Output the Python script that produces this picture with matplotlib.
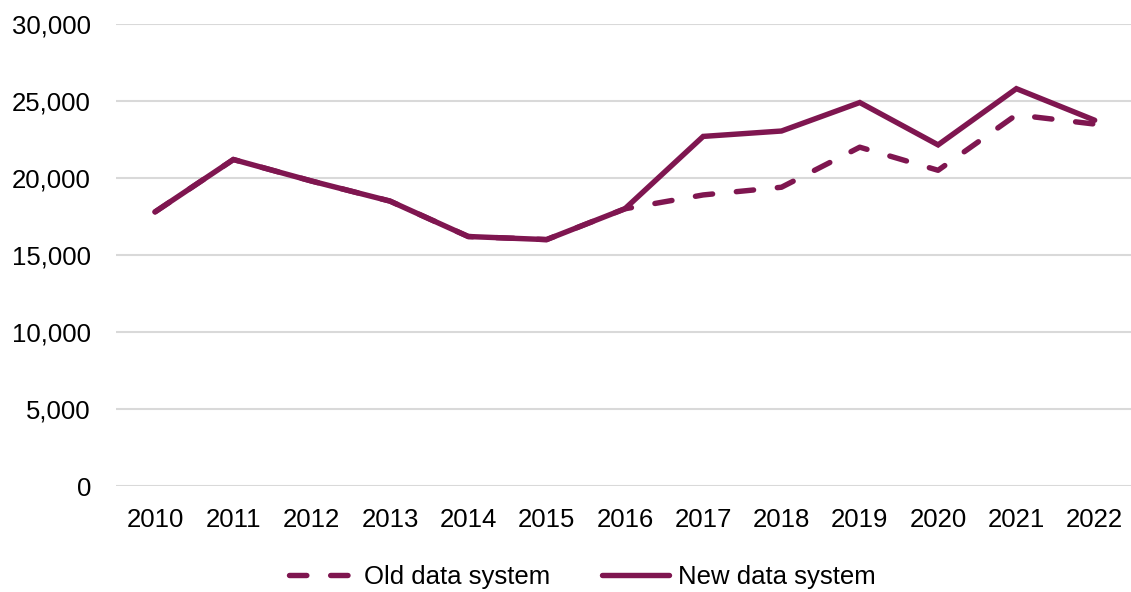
import matplotlib.pyplot as plt
from matplotlib.ticker import FuncFormatter

plt.rcParams['font.family'] = ['Liberation Sans', 'DejaVu Sans']

years = ['2010', '2011', '2012', '2013', '2014', '2015', '2016',
         '2017', '2018', '2019', '2020', '2021', '2022']
old_system = [17800, 21200, 19800, 18500, 16200, 16000, 18000,
              18900, 19400, 22000, 20500, 24100, 23500]
new_system = [17800, 21200, 19800, 18500, 16200, 16000, 18000,
              22700, 23050, 24900, 22150, 25800, 23750]

colour = '#7F1650'

fig = plt.figure(figsize=(11.31, 5.92), dpi=100)
ax = fig.add_axes([0.1025, 0.179, 0.9, 0.7805])

x = range(len(years))
ax.plot(x, old_system, color=colour, lw=3.9, dashes=(3.2, 4.4),
        dash_capstyle='round', solid_capstyle='round', label='Old data system', zorder=3)
ax.plot(x, new_system, color=colour, lw=3.9, solid_capstyle='round',
        solid_joinstyle='miter', label='New data system', zorder=4)

ax.set_xlim(-0.5, len(years) - 0.5)
ax.set_ylim(0, 30000)
ax.set_yticks(range(0, 30001, 5000))
ax.yaxis.set_major_formatter(FuncFormatter(lambda v, p: f'{int(v):,}'))
ax.set_xticks(list(x))
ax.set_xticklabels(years)
ax.grid(axis='y', color='#D9D9D9', lw=1.5)
ax.set_axisbelow(True)
for s in ax.spines.values():
    s.set_visible(False)
ax.tick_params(length=0, labelsize=18.5, colors='black')
ax.tick_params(axis='y', pad=18)
ax.tick_params(axis='x', pad=16)

ax.legend(loc='upper center', bbox_to_anchor=(0.458, -0.12), ncol=2, frameon=False,
          fontsize=18.5, handlelength=2.6, handletextpad=0.35, columnspacing=2.0)

fig.savefig('out.png', dpi=100)
